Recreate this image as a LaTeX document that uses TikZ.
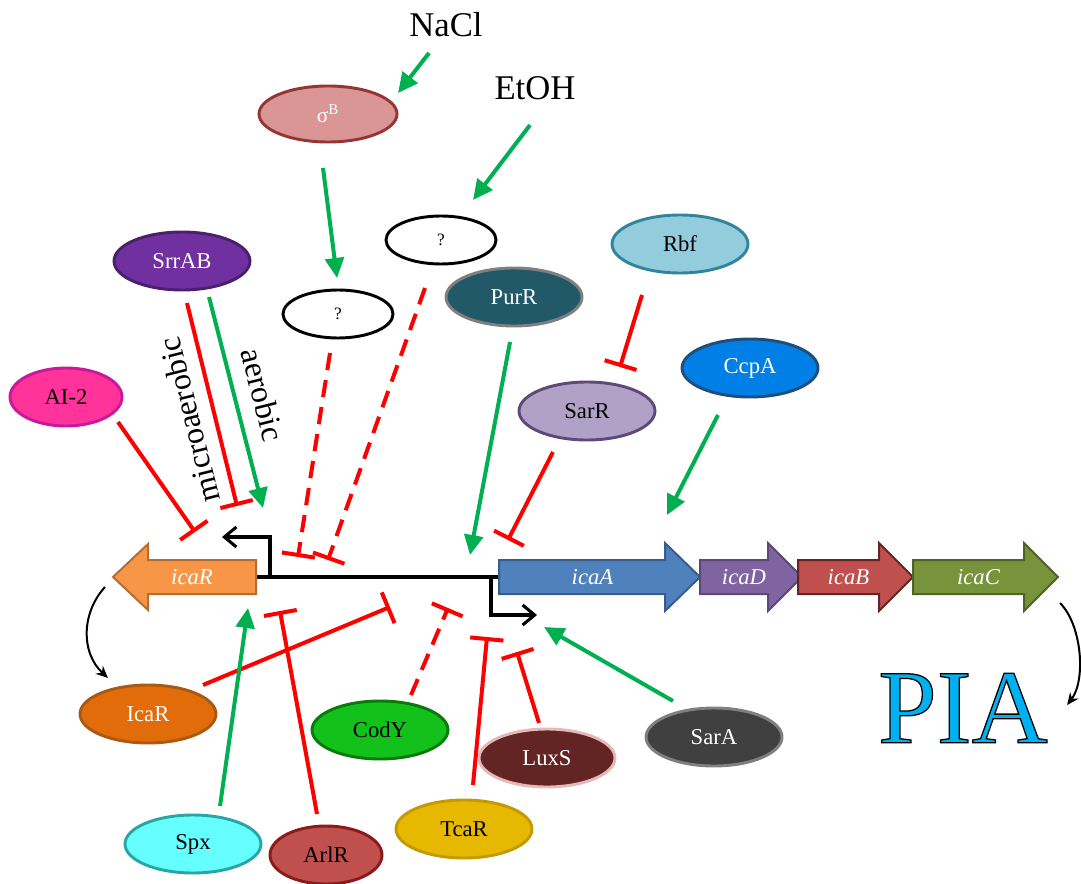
\documentclass[tikz,border=0pt]{standalone}
\usepackage{fontspec}
\setmainfont{Liberation Serif}
\newfontfamily\piafont[FakeBold=1.2]{Liberation Serif}
\usetikzlibrary{shapes.geometric,arrows.meta,positioning}

\definecolor{actgreen}{HTML}{00B050}
\definecolor{repred}{HTML}{FF0000}
\definecolor{sigfill}{HTML}{D99694}
\definecolor{sigline}{HTML}{943634}
\definecolor{srrfill}{HTML}{7030A0}
\definecolor{srrline}{HTML}{4A1F6C}
\definecolor{aifill}{HTML}{FF3399}
\definecolor{ailine}{HTML}{C8189C}
\definecolor{purfill}{HTML}{215968}
\definecolor{purline}{HTML}{7F7F7F}
\definecolor{rbffill}{HTML}{93CDDD}
\definecolor{rbfline}{HTML}{31849B}
\definecolor{ccpfill}{HTML}{0080E6}
\definecolor{ccpline}{HTML}{1F4E79}
\definecolor{sarrfill}{HTML}{B2A1C7}
\definecolor{sarrline}{HTML}{5F497A}
\definecolor{icarfill}{HTML}{E36C0A}
\definecolor{icarline}{HTML}{A85A12}
\definecolor{codfill}{HTML}{12C11A}
\definecolor{codline}{HTML}{0B7A0B}
\definecolor{luxfill}{HTML}{632523}
\definecolor{luxline}{HTML}{E6B9B8}
\definecolor{sarafill}{HTML}{404040}
\definecolor{saraline}{HTML}{7F7F7F}
\definecolor{spxfill}{HTML}{66FFFF}
\definecolor{spxline}{HTML}{2AA5A5}
\definecolor{arlfill}{HTML}{C0504D}
\definecolor{arlline}{HTML}{8B1A1A}
\definecolor{tcafill}{HTML}{E6B800}
\definecolor{tcaline}{HTML}{C39A00}
\definecolor{gRfill}{HTML}{F79646}
\definecolor{gRline}{HTML}{B66D31}
\definecolor{gAfill}{HTML}{4F81BD}
\definecolor{gAline}{HTML}{385D8A}
\definecolor{gDfill}{HTML}{8064A2}
\definecolor{gDline}{HTML}{5C4776}
\definecolor{gBfill}{HTML}{C0504D}
\definecolor{gBline}{HTML}{632523}
\definecolor{gCfill}{HTML}{77933C}
\definecolor{gCline}{HTML}{4F6228}

\tikzset{
  reg/.style={ellipse, line width=2.2pt, minimum width=102pt, minimum height=43.5pt,
    inner sep=0pt, font=\fontsize{17}{17}\selectfont},
  unk/.style={ellipse, draw=black, line width=2.2pt, fill=white, minimum width=82.5pt,
    minimum height=36pt, inner sep=0pt, font=\fontsize{13}{13}\selectfont},
  act/.style={draw=actgreen, line width=3pt, -{Triangle[length=15pt,width=14pt]}},
  rep/.style={draw=repred, line width=3pt, -{Bar[width=25pt]}},
  maybe/.style={rep, dash pattern=on 13pt off 7.5pt},
  dna/.style={line width=2.3pt},
  prom/.style={line width=2.3pt, -{Straight Barb[length=9pt,width=15pt]}},
  gene/.style={line width=1.5pt},
  genetxt/.style={text=white, inner sep=0pt, font=\fontsize{17}{17}\selectfont\itshape},
  feedback/.style={line width=1.5pt, -{Stealth[length=9pt,width=8pt]}},
  cond/.style={font=\fontsize{24}{24}\selectfont},
  stim/.style={font=\fontsize{26}{26}\selectfont}
}

\newcommand{\generight}[6]{%
  \draw[gene, fill=#4, draw=#5] (#1,560) -- (#2,560) -- (#2,543) -- (#3,577)
    -- (#2,611) -- (#2,594) -- (#1,594) -- cycle;
  \node[genetxt] (#6) at ({(#1+#3)/2-7},577) {#6};
}

\begin{document}
\begin{tikzpicture}[x=0.75pt,y=-0.75pt]
 \useasboundingbox (0,0) rectangle (1081,884);

 \node[stim] (nacl) at (446,25) {NaCl};
 \node[stim] (etoh) at (535,88) {EtOH};
 \node[reg, fill=sigfill, draw=sigline, text=white, minimum width=103.5pt, minimum height=42pt,
   font=\fontsize{16}{16}\selectfont] (sigb) at (328,114) {σ\textsuperscript{B}};
 \node[unk] (unkA) at (441,240) {?};
 \node[unk] (unkB) at (338,314) {?};
 \node[reg, fill=srrfill, draw=srrline, text=white] (srrab) at (182,261) {SrrAB};
 \node[reg, fill=aifill, draw=ailine, minimum width=84pt] (ai2) at (66,397) {AI-2};
 \node[reg, fill=purfill, draw=purline, text=white] (purr) at (514,297) {PurR};
 \node[reg, fill=rbffill, draw=rbfline] (rbf) at (680,244) {Rbf};
 \node[reg, fill=ccpfill, draw=ccpline, text=white] (ccpa) at (750,368) {CcpA};
 \node[reg, fill=sarrfill, draw=sarrline] (sarr) at (587,411) {SarR};
 \node[reg, fill=icarfill, draw=icarline, text=white] (icar) at (148,714) {IcaR};
 \node[reg, fill=codfill, draw=codline] (cody) at (380,730) {CodY};
 \node[reg, fill=luxfill, draw=luxline, text=white] (luxs) at (547,758) {LuxS};
 \node[reg, fill=sarafill, draw=saraline, text=white] (sara) at (714,737) {SarA};
 \node[reg, fill=spxfill, draw=spxline] (spx) at (193,844) {Spx};
 \node[reg, fill=arlfill, draw=arlline, minimum width=84pt] (arlr) at (326,855) {ArlR};
 \node[reg, fill=tcafill, draw=tcaline] (tcar) at (464,829) {TcaR};

 \node[cond, rotate=104] (micro) at (189,420) {microaerobic};
 \node[cond, rotate=-76] (aero) at (263,395) {aerobic};

 \coordinate (dnaL) at (256,577);
 \coordinate (dnaR) at (499,577);
 \coordinate (pR) at (270,577);
 \coordinate (pRtip) at (222,537);
 \coordinate (pA) at (491,577);
 \coordinate (pAtip) at (537,615);
 \draw[dna] (dnaL) -- (dnaR);
 \draw[prom] (pR) |- (pRtip);
 \draw[prom] (pA) |- (pAtip);

 \draw[gene, fill=gRfill, draw=gRline] (256,560) -- (148,560) -- (148,544) -- (113,577)
   -- (148,610) -- (148,594) -- (256,594) -- cycle;
 \node[genetxt] (icaR) at (192,577) {icaR};
 \generight{499}{665}{700}{gAfill}{gAline}{icaA}
 \generight{700}{768}{802}{gDfill}{gDline}{icaD}
 \generight{798}{879}{913}{gBfill}{gBline}{icaB}
 \generight{913}{1024}{1058}{gCfill}{gCline}{icaC}

 \node[inner sep=0pt, font=\fontsize{79}{79}\piafont] (pia) at (963,708)
   {\special{pdf:bcolor [0 0.69 0.94] [0 0 0]}PIA\special{pdf:ecolor}};

 \coordinate (hitA) at (328,560);
 \coordinate (hitB) at (298,557);
 \coordinate (hitPur) at (470,555);
 \coordinate (hitSarR) at (508,540);
 \coordinate (hitCcp) at (667,515);
 \coordinate (hitMicro) at (237,506);
 \coordinate (hitAer) at (263,508);
 \coordinate (hitAI) at (195,532);
 \coordinate (hitIcaR) at (390,607);
 \coordinate (hitSpx) at (248,608);
 \coordinate (hitArl) at (280,611);
 \coordinate (hitCod) at (448,608);
 \coordinate (hitTca) at (487,637);
 \coordinate (hitLux) at (517,652);
 \coordinate (hitSarA) at (544,627);

 \draw[act] ([shift={(-17,28)}]nacl.center) -- ([shift={(70,-21)}]sigb.center);
 \draw[act] ([shift={(-5,37)}]etoh.center) -- ([shift={(32,-40)}]unkA.center);
 \draw[act] ([shift={(-5,54)}]sigb.center) -- ([shift={(-1,-36)}]unkB.center);
 \draw[maybe] ([shift={(-16,48)}]unkA.center) -- (hitA);
 \draw[maybe] ([shift={(-8,39)}]unkB.center) -- (hitB);
 \draw[act] ([shift={(-4,45)}]purr.center) -- (hitPur);
 \draw[rep] ([shift={(-34,41)}]sarr.center) -- (hitSarR);
 \draw[rep] ([shift={(-38,51)}]rbf.center) -- ([shift={(33,-44)}]sarr.center);
 \draw[act] ([shift={(-32,47)}]ccpa.center) -- (hitCcp);
 \draw[rep] ([shift={(5,42)}]srrab.center) -- (hitMicro);
 \draw[act] ([shift={(27,36)}]srrab.center) -- (hitAer);
 \draw[rep] ([shift={(52,25)}]ai2.center) -- (hitAI);
 \draw[rep] ([shift={(55,-29)}]icar.center) -- (hitIcaR);
 \draw[act] ([shift={(27,-38)}]spx.center) -- (hitSpx);
 \draw[rep] ([shift={(-9,-41)}]arlr.center) -- (hitArl);
 \draw[maybe] ([shift={(31,-35)}]cody.center) -- (hitCod);
 \draw[rep] ([shift={(9,-44)}]tcar.center) -- (hitTca);
 \draw[rep] ([shift={(-8,-35)}]luxs.center) -- (hitLux);
 \draw[act] ([shift={(-41,-36)}]sara.center) -- (hitSarA);

 \coordinate (gRtail) at (105,587);
 \coordinate (gCtail) at (1060,603);
 \draw[feedback] (gRtail) .. controls (82,612) and (80,652) .. ([shift={(-40,-36)}]icar.center);
 \draw[feedback] (gCtail) .. controls (1082,625) and (1086,680) .. ([shift={(19,-3)}]pia.east);
\end{tikzpicture}
\end{document}
